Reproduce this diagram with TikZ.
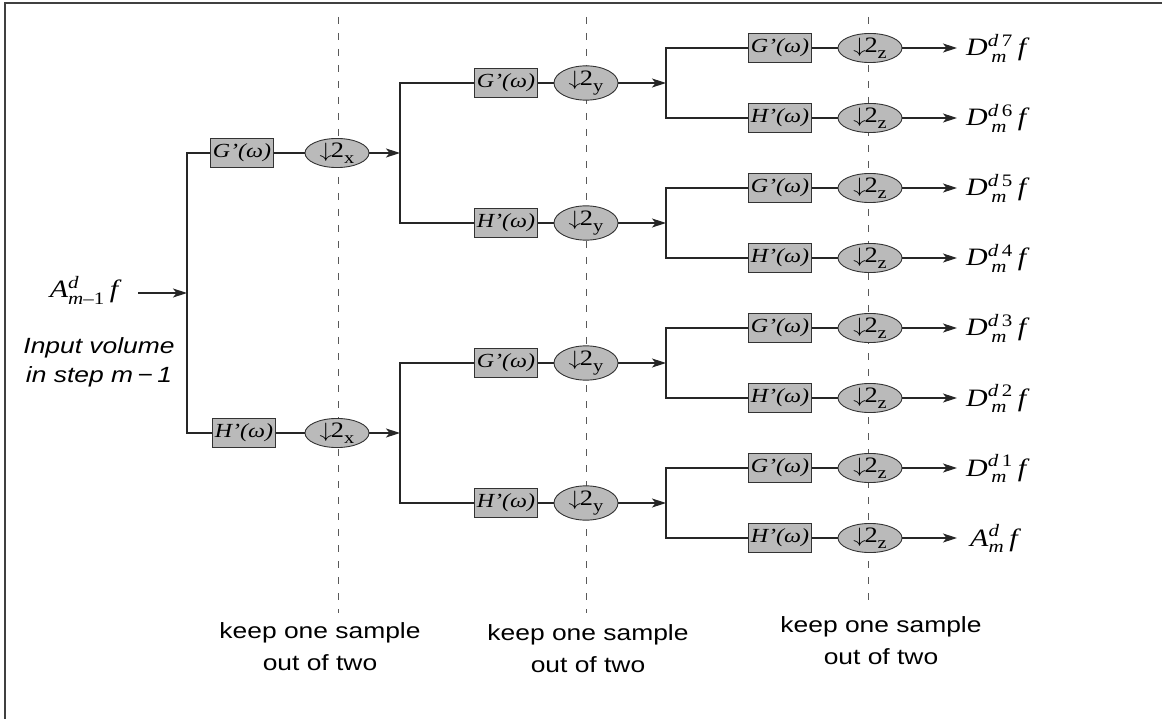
\documentclass[tikz,border=0pt]{standalone}
\usepackage{graphicx}
\usepackage{amsmath}
\usepackage{fontspec}
\setmainfont{Liberation Serif}
\newfontfamily\lsans{Liberation Sans}
\usetikzlibrary{arrows.meta,shapes.geometric}
\newcommand\sx[1]{\scalebox{1.2}[1]{#1}}
\newcommand\dsub[1]{\sx{$\downarrow$\kern-1pt2\raisebox{-6pt}{\fontsize{17}{17}\selectfont #1}}}
\newcommand\outD[1]{\sx{$\textit{D}^{\textit{d}\,\text{#1}}_{\,\textit{m}}\,\textit{f}$}}
\tikzset{
  filt/.style={draw=black!80, line width=0.9pt, fill=black!27, minimum width=63pt, minimum height=29pt, inner sep=0pt, font=\fontsize{20}{20}\selectfont\itshape},
  dsamp/.style={ellipse, draw=black!80, line width=0.9pt, fill=black!27, minimum width=64pt, minimum height=28pt, inner sep=0pt, font=\fontsize{22}{22}\selectfont},
  wire/.style={draw=black!85, line width=1.1pt},
  arr/.style={wire, -{Stealth[length=14pt,width=9pt,inset=3.5pt]}},
  guide/.style={draw=black!65, line width=0.9pt, dash pattern=on 7pt off 9pt},
  outl/.style={anchor=base west, font=\fontsize{25}{25}\selectfont, inner sep=0pt},
  note/.style={font=\lsans\fontsize{22}{32}\selectfont, align=center, inner sep=0pt, anchor=base},
  frame/.style={draw=black!75, line width=1.6pt}
}
\begin{document}
\begin{tikzpicture}[x=1pt,y=-1pt]
\useasboundingbox (0,0) rectangle (1162,719);
% frame (top and left edges visible)
\draw[frame] (1162,3) -- (5,3) -- (5,719);
% dashed guides
\draw[guide] (338,17) -- (338,613);
\draw[guide] (586,17) -- (586,613);
\draw[guide] (868,17) -- (868,607);
% input
\node[anchor=base, font=\fontsize{25}{25}\selectfont, inner sep=0pt] (in) at (84,298)
  {\sx{$\textit{A}^{\textit{d}}_{\textit{m}\text{–1}}\,\textit{f}$}};
\coordinate (inA) at (138,293);
\coordinate (s1) at (187,293);
\draw[arr] (inA) -- (s1);
\node[note, font=\lsans\itshape\fontsize{22}{29}\selectfont] (inlab) at (99,382)
  {\sx{Input volume}\\ \sx{in step \textit{m}\,−\,1}};
% stage 1
\node[filt] (g1) at (242,153) {\sx{G’(ω)}};
\node[filt] (h1) at (244,433) {\sx{H’(ω)}};
\node[dsamp] (dg1) at (337,153) {\dsub{x}};
\node[dsamp] (dh1) at (337,433) {\dsub{x}};
\draw[wire] (g1.west) -| (s1) |- (h1.west);
\draw[wire] (g1.east) -- (dg1.west);
\draw[wire] (h1.east) -- (dh1.west);
\coordinate (s2a) at (400,153);
\coordinate (s2b) at (400,433);
\draw[arr] (dg1.east) -- (s2a);
\draw[arr] (dh1.east) -- (s2b);
% stage 2
\foreach \n/\y/\ka/\kb in {a/153/1/2, b/433/3/4}{
  \node[filt] (g2\n) at (506,{\y-70}) {\sx{G’(ω)}};
  \node[filt] (h2\n) at (506,{\y+70}) {\sx{H’(ω)}};
  \node[dsamp] (dg2\n) at (586,{\y-70}) {\dsub{y}};
  \node[dsamp] (dh2\n) at (586,{\y+70}) {\dsub{y}};
  \draw[wire] (g2\n.west) -| (s2\n) |- (h2\n.west);
  \draw[wire] (g2\n.east) -- (dg2\n.west);
  \draw[wire] (h2\n.east) -- (dh2\n.west);
  \coordinate (s3\ka) at (666,{\y-70});
  \coordinate (s3\kb) at (666,{\y+70});
  \draw[arr] (dg2\n.east) -- (s3\ka);
  \draw[arr] (dh2\n.east) -- (s3\kb);
}
% stage 3
\foreach \k/\y in {1/83, 2/223, 3/363, 4/503}{
  \node[filt] (g3\k) at (780,{\y-35}) {\sx{G’(ω)}};
  \node[filt] (h3\k) at (780,{\y+35}) {\sx{H’(ω)}};
  \node[dsamp] (dg3\k) at (870,{\y-35}) {\dsub{z}};
  \node[dsamp] (dh3\k) at (870,{\y+35}) {\dsub{z}};
  \draw[wire] (g3\k.west) -| (s3\k) |- (h3\k.west);
  \draw[wire] (g3\k.east) -- (dg3\k.west);
  \draw[wire] (h3\k.east) -- (dh3\k.west);
  \coordinate (og\k) at (957,{\y-35});
  \coordinate (oh\k) at (957,{\y+35});
  \draw[arr] (dg3\k.east) -- (og\k);
  \draw[arr] (dh3\k.east) -- (oh\k);
}
% outputs
\node[outl] (o7) at (966,56) {\outD{7}};
\node[outl] (o6) at (966,126) {\outD{6}};
\node[outl] (o5) at (966,196) {\outD{5}};
\node[outl] (o4) at (966,266) {\outD{4}};
\node[outl] (o3) at (966,336) {\outD{3}};
\node[outl] (o2) at (966,406) {\outD{2}};
\node[outl] (o1) at (966,476) {\outD{1}};
\node[outl] (o0) at (970,546) {\sx{$\textit{A}^{\textit{d}}_{\textit{m}}\,\textit{f}$}};
% notes
\node[note] (k1) at (320,670) {\sx{keep one sample}\\ \sx{out of two}};
\node[note] (k2) at (588,672) {\sx{keep one sample}\\ \sx{out of two}};
\node[note] (k3) at (881,664) {\sx{keep one sample}\\ \sx{out of two}};
\end{tikzpicture}
\end{document}
